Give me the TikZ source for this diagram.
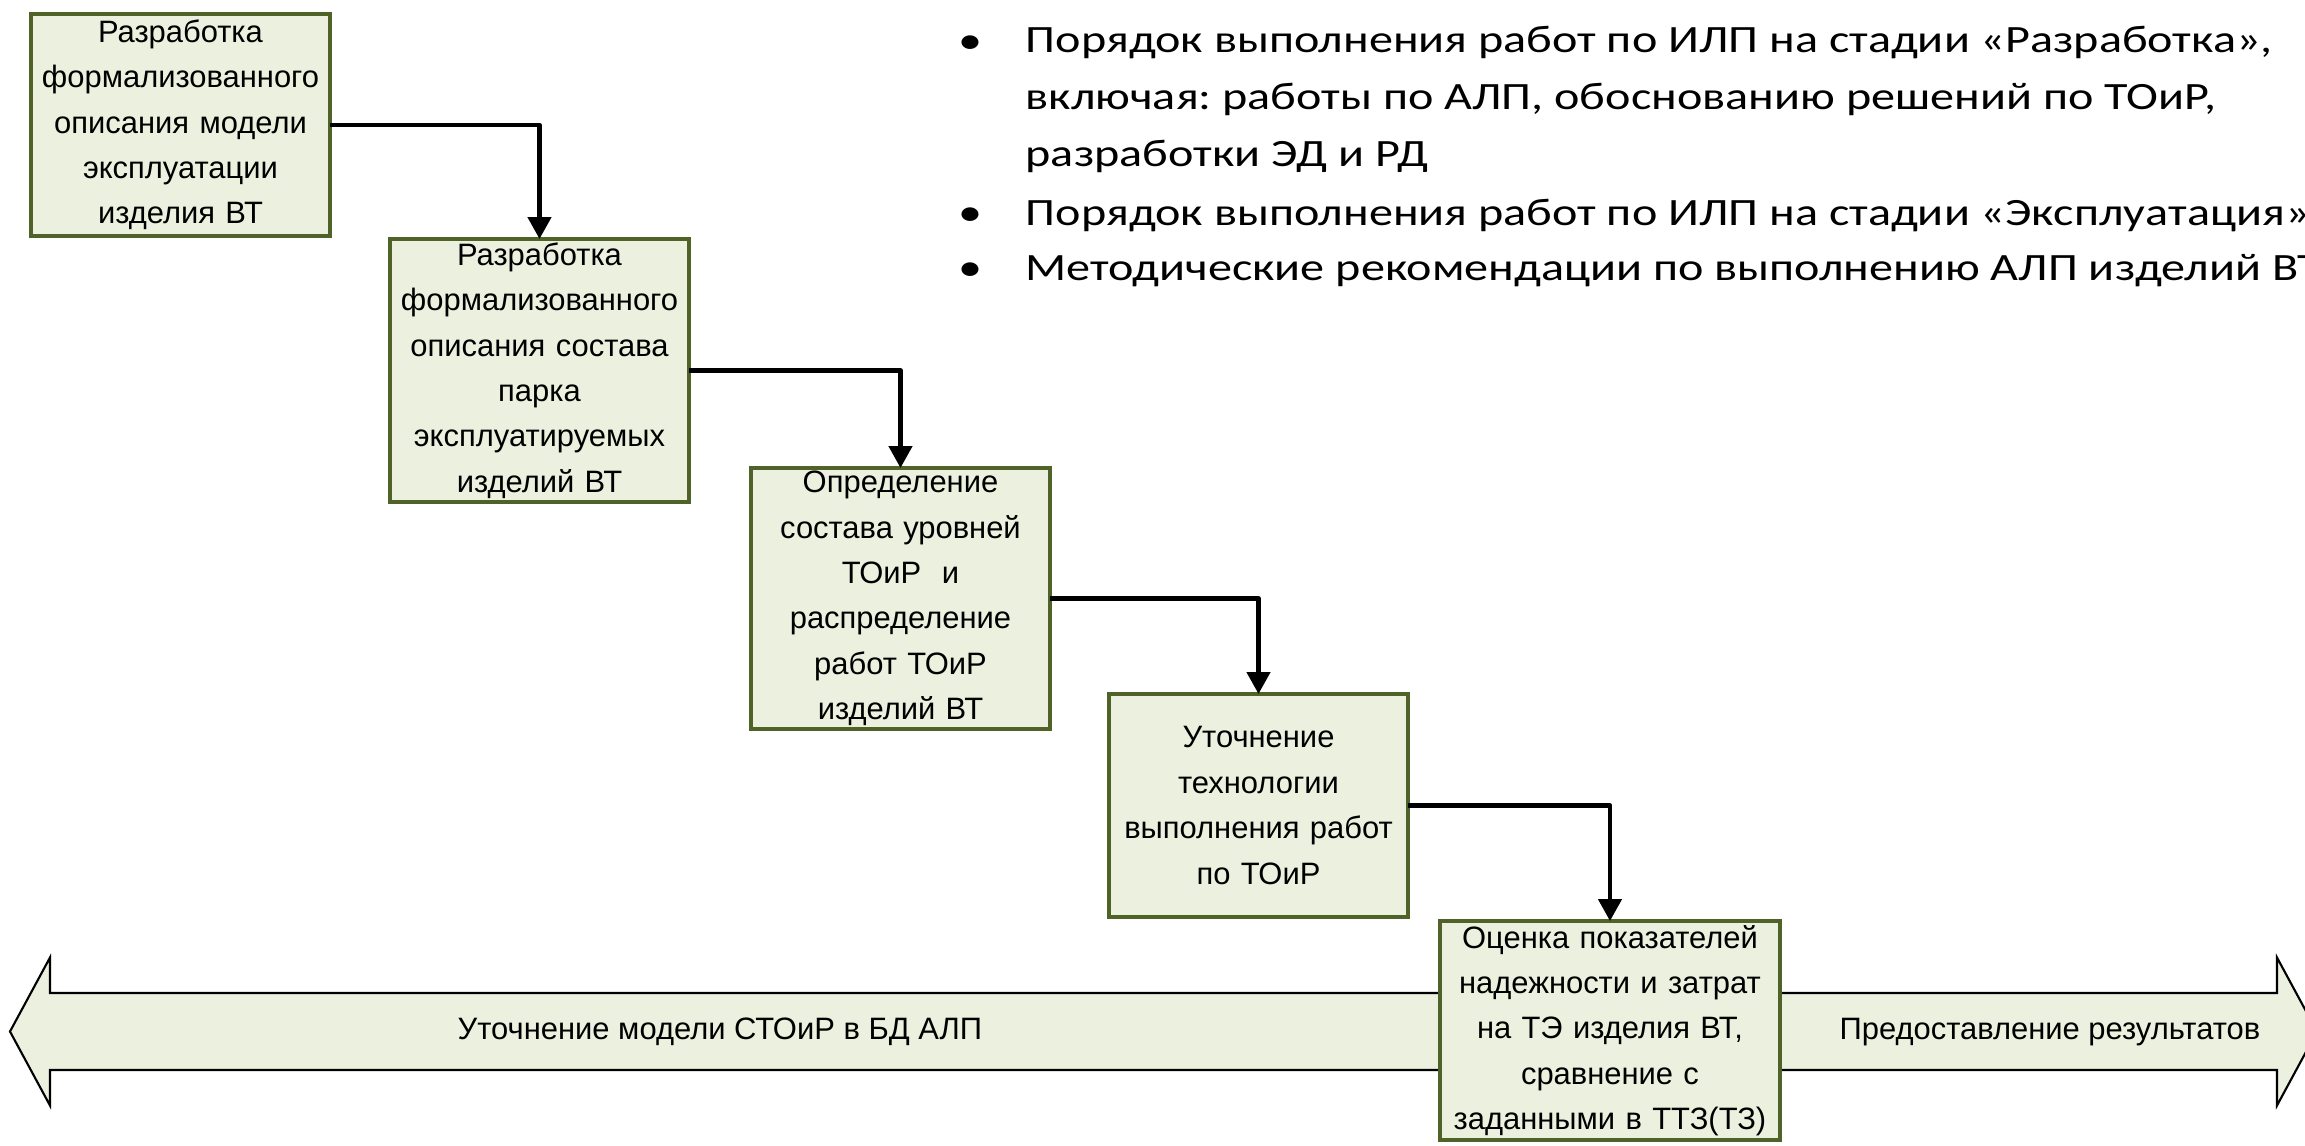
\documentclass[tikz,border=0pt]{standalone}
\usepackage{fontspec}
\setmainfont{Liberation Sans}
\newfontfamily\calibri[FakeStretch=1.245]{Carlito}
\usepackage{tikz}
\usetikzlibrary{positioning, arrows.meta}
\definecolor{boxfill}{HTML}{EBF1DE}
\definecolor{boxdraw}{HTML}{4F6228}
\frenchspacing
\tikzstyle{process} = [rectangle, minimum width=2.99cm, text width=2.95cm, align=center, inner sep=0pt, outer sep=0pt, draw=boxdraw, line width=1.4pt, fill=boxfill, font=\fontsize{8.8}{12.9}\selectfont]
\tikzstyle{arrow} = [line width=1.3pt, line join=round, -{Triangle[width=0.23cm, length=0.22cm]}]
\tikzstyle{band} = [draw=black, line width=0.6pt, fill=boxfill]
\tikzstyle{bandtext} = [inner sep=0pt, font=\fontsize{8.8}{10}\selectfont]
\tikzstyle{item} = [anchor=base west, align=left, inner sep=0pt, font=\calibri\fontsize{11}{16.1}\selectfont]
\tikzstyle{dot} = [anchor=base, inner sep=0pt, font=\calibri\fontsize{11}{16.1}\selectfont]

\begin{document}
\begin{tikzpicture}
	\useasboundingbox (0,0) rectangle (23.05,-11.45);
	\clip (0,0) rectangle (23.05,-11.45);

	% list on the right (base of a multi-line node is its last line)
	\node[dot] (dot1) at (9.70,-0.53) {•};
	\node[item] (item1) at (10.25,-1.66) {Порядок выполнения работ по ИЛП на стадии «Разработка»,\\включая: работы по АЛП, обоснованию решений по ТОиР,\\разработки ЭД и РД};
	\node[dot] (dot2) at (9.70,-2.25) {•};
	\node[item] (item2) at (10.25,-2.25) {Порядок выполнения работ по ИЛП на стадии «Эксплуатация»};
	\node[dot] (dot3) at (9.70,-2.80) {•};
	\node[item] (item3) at (10.25,-2.80) {Методические рекомендации по выполнению АЛП изделий ВТ};

	% double arrow at the bottom
	\draw[band] (0.10,-10.315) -- (0.50,-9.575) -- (0.50,-9.93) -- (22.77,-9.93) -- (22.77,-9.575)
		-- (23.17,-10.315) -- (22.77,-11.055) -- (22.77,-10.70) -- (0.50,-10.70) -- (0.50,-11.055) -- cycle;
	\node[bandtext] (refine) at (7.20,-10.32) {Уточнение модели СТОиР в БД АЛП};
	\node[bandtext] (results) at (20.50,-10.32) {Предоставление результатов};

	% steps
	\node[process, minimum height=2.22cm, anchor=north west](model_desc) at (0.31,-0.14){Разработка\\формализованного\\описания модели\\эксплуатации\\изделия ВТ};
	\node[process, minimum height=2.63cm, below right=0.03cm and 0.60cm of model_desc](park_desc){Разработка\\формализованного\\описания состава\\парка\\эксплуатируемых\\изделий ВТ};
	\node[process, minimum height=2.61cm, below right=-0.34cm and 0.62cm of park_desc](levels){Определение\\состава уровней\\ТОиР\ \ и\\распределение\\работ ТОиР\\изделий ВТ};
	\node[process, minimum height=2.23cm, below right=-0.35cm and 0.59cm of levels](technology){Уточнение\\технологии\\выполнения работ\\по ТОиР};
	\node[process, minimum width=3.40cm, text width=3.36cm, minimum height=2.19cm, below right=0.04cm and 0.32cm of technology](estimate){Оценка показателей\\надежности и затрат\\на ТЭ изделия ВТ,\\сравнение с\\заданными в ТТЗ(ТЗ)};

	\draw[arrow] (model_desc) -| (park_desc);
	\draw[arrow] (park_desc) -| (levels);
	\draw[arrow] (levels) -| (technology);
	\draw[arrow] (technology) -| (estimate);
\end{tikzpicture}
\end{document}
